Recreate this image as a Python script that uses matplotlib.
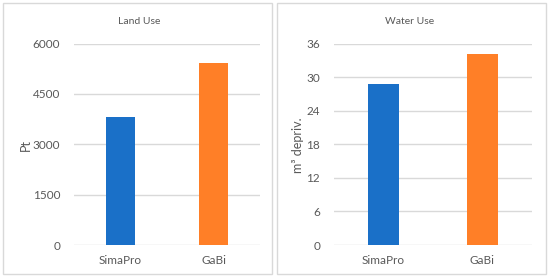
import matplotlib.pyplot as plt
from matplotlib.patches import Rectangle

# data
categories = ['SimaPro', 'GaBi']
land_use = [3820, 5430]
water_use = [28.7, 34.2]
land_ticks = [0, 1500, 3000, 4500, 6000]
water_ticks = [0, 6, 12, 18, 24, 30, 36]
bar_colors = ['#1a70c8', '#ff7f27']

plt.rcParams['font.family'] = ['Lato', 'DejaVu Sans']

W, H = 550, 278
fig = plt.figure(figsize=(W / 100, H / 100), dpi=100)
fig.patch.set_facecolor('white')

def px(x0, y0, x1, y1):
    # pixel box (top-left origin) -> figure fraction rect
    return [x0 / W, 1 - y1 / H, (x1 - x0) / W, (y1 - y0) / H]

# panel frames
for x0, x1 in [(3, 272), (277, 546)]:
    r = px(x0, 3, x1, 274)
    fig.patches.append(Rectangle((r[0], r[1]), r[2], r[3], transform=fig.transFigure,
                                 fill=False, edgecolor='#d9d9d9', linewidth=1))

def panel(rect, values, ticks, title, ylabel, bw, title_x, ylab_x):
    ax = fig.add_axes(rect)
    ax.bar(range(len(categories)), values, width=bw, color=bar_colors, zorder=3)
    ax.set_xlim(-0.5, len(categories) - 0.5)
    ax.set_ylim(ticks[0], ticks[-1])
    ax.set_yticks(ticks)
    ax.set_xticks(range(len(categories)))
    ax.set_xticklabels(categories)
    ax.grid(axis='y', color='#d9d9d9', linewidth=1, zorder=0)
    for s in ax.spines.values():
        s.set_visible(False)
    ax.tick_params(axis='both', length=0, colors='#595959', labelsize=8.5)
    ax.tick_params(axis='x', pad=7)
    ax.tick_params(axis='y', pad=10)
    fig.text(title_x / W, 1 - 21 / H, title, ha='center', va='center',
             fontsize=7.5, color='#595959')
    fig.text(ylab_x / W, 1 - 145 / H, ylabel, ha='center', va='center',
             rotation=90, fontsize=9, color='#595959')
    return ax

panel(px(74, 43.5, 260, 245), land_use, land_ticks, 'Land Use', 'Pt', 0.31, 139, 26)
panel(px(334, 43.5, 532, 245), water_use, water_ticks, 'Water Use', 'm³ depriv.', 0.31, 410, 298)

fig.savefig('out.png', dpi=100)
